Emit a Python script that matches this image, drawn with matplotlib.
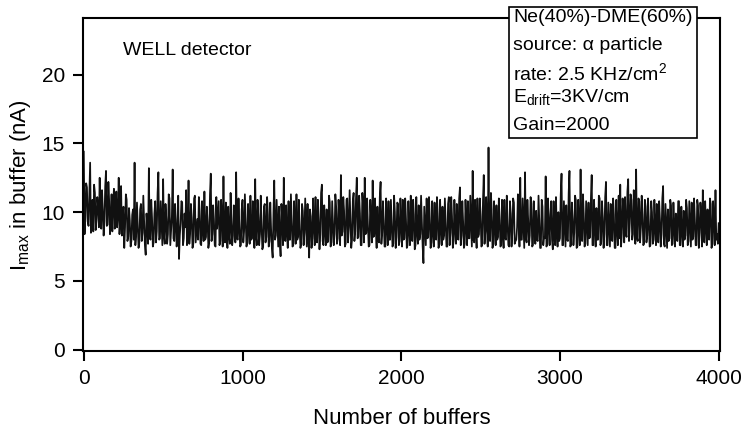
import numpy as np
import matplotlib
matplotlib.use('Agg')
import matplotlib.pyplot as plt
from matplotlib.patches import Rectangle

plt.rcParams['font.family'] = ['Liberation Sans', 'DejaVu Sans']
plt.rcParams['mathtext.fontset'] = 'custom'
plt.rcParams['mathtext.rm'] = 'Liberation Sans'
plt.rcParams['mathtext.it'] = 'Liberation Sans:italic'
plt.rcParams['mathtext.default'] = 'regular'

# Imax, buffers 0, 10, 20 ... 4000
imax = [
    14.4, 9.6, 11.8, 9.0, 13.6, 10.1, 8.6, 11.4, 9.5, 10.4, 12.5, 8.8, 10.2, 9.3, 13.0, 9.1, 10.8, 9.7, 8.6, 11.7,
    10.0, 8.9, 12.5, 9.6, 8.3, 10.4, 8.9, 10.9, 8.2, 9.4, 7.9, 10.2, 13.6, 8.4, 9.0, 7.8, 10.6, 8.5, 9.3, 6.9,
    9.1, 13.2, 8.0, 9.6, 7.8, 10.8, 8.6, 12.9, 8.1, 9.2, 12.4, 7.7, 9.5, 8.4, 11.0, 8.7, 13.1, 7.9, 9.4, 8.3,
    6.6, 9.2, 10.7, 8.1, 8.9, 7.6, 12.3, 8.5, 9.6, 7.7, 11.2, 8.6, 8.0, 10.1, 7.6, 9.0, 11.5, 8.2, 9.3, 7.8,
    12.8, 8.4, 9.5, 7.5, 8.8, 10.8, 7.9, 9.7, 12.6, 7.8, 8.7, 10.4, 7.7, 9.2, 8.3, 10.2, 12.9, 8.0, 9.0, 7.6,
    10.9, 8.6, 9.4, 7.8, 8.9, 11.2, 8.1, 8.7, 12.4, 7.6, 9.6, 8.4, 9.1, 7.5, 10.6, 8.2, 9.8, 7.9, 8.8, 6.7,
    12.3, 8.3, 9.1, 10.4, 6.8, 9.5, 12.5, 7.9, 8.6, 10.8, 8.0, 9.3, 7.6, 9.0, 11.3, 8.2, 8.8, 7.7, 10.1, 8.5,
    9.2, 10.6, 6.7, 9.7, 8.1, 8.9, 11.1, 7.8, 9.4, 8.4, 12.0, 7.6, 8.7, 10.2, 7.9, 10.7, 7.8, 9.1, 8.4, 10.4,
    8.1, 9.8, 12.7, 8.6, 10.1, 7.7, 11.0, 8.9, 9.5, 8.0, 11.4, 8.6, 12.5, 8.2, 9.9, 7.6, 10.5, 12.5, 8.5, 9.1,
    7.6, 9.6, 12.3, 8.3, 8.8, 10.4, 7.8, 12.2, 8.5, 9.4, 7.5, 9.0, 10.8, 8.0, 9.2, 7.7, 10.0, 8.2, 10.6, 7.9,
    9.1, 10.9, 8.1, 9.5, 7.6, 8.8, 11.2, 7.9, 9.8, 7.6, 8.6, 10.5, 8.4, 9.3, 6.3, 9.0, 11.0, 8.2, 9.6, 7.8,
    8.6, 10.7, 8.0, 9.9, 7.7, 8.9, 10.4, 8.3, 9.2, 7.5, 11.1, 8.5, 9.7, 7.9, 8.8, 10.6, 8.0, 11.8, 8.3, 9.3,
    7.7, 9.1, 10.8, 8.1, 9.4, 13.0, 7.8, 8.7, 11.0, 8.4, 9.8, 7.6, 12.7, 8.6, 9.0, 14.7, 7.9, 10.2, 7.7, 8.9,
    10.5, 8.2, 9.5, 7.6, 8.6, 10.9, 8.0, 9.2, 7.5, 9.9, 8.5, 10.7, 7.9, 8.9, 9.6, 12.5, 8.0, 9.1, 12.9, 7.8,
    9.4, 8.3, 10.6, 7.6, 8.8, 10.1, 7.9, 9.3, 7.4, 10.4, 8.2, 12.6, 7.7, 9.0, 9.8, 8.0, 10.8, 7.6, 8.6, 10.0,
    8.1, 12.8, 7.6, 9.2, 10.5, 7.9, 13.0, 7.6, 9.5, 8.5, 10.9, 7.5, 8.8, 13.1, 7.9, 9.9, 7.7, 9.3, 10.7, 8.2,
    12.7, 7.6, 8.9, 10.3, 8.0, 11.0, 7.8, 9.6, 8.4, 12.2, 7.6, 9.1, 10.6, 7.9, 9.8, 7.4, 8.8, 11.2, 12.0, 8.5,
    9.6, 11.1, 8.2, 12.4, 9.2, 10.9, 8.4, 10.2, 13.1, 7.9, 10.8, 8.9, 9.8, 7.7, 10.4, 8.3, 9.4, 7.6, 10.0, 8.0,
    8.9, 10.6, 7.8, 9.5, 8.4, 11.9, 7.5, 9.1, 10.2, 8.1, 10.5, 7.7, 8.9, 9.9, 7.9, 10.8, 7.6, 8.7, 10.1, 8.3,
    10.3, 7.9, 9.2, 10.7, 8.2, 9.5, 7.6, 10.5, 8.5, 9.7, 11.6, 7.8, 9.0, 10.2, 8.0, 10.6, 7.7, 9.4, 11.6, 8.4,
    9.2,
]
# in-between readings, buffers 5, 15, 25 ... 3995
imax_mid = [
    8.4, 12.1, 9.3, 11.2, 8.5, 10.9, 12.0, 8.7, 11.1, 8.9, 9.8, 11.6, 8.3, 11.9, 9.0, 12.2, 8.4, 11.3, 10.6, 8.8,
    11.5, 9.8, 8.4, 11.9, 9.7, 7.4, 11.3, 7.9, 10.3, 7.5, 9.8, 8.0, 7.6, 10.7, 7.4, 10.2, 7.9, 11.2, 7.6, 9.9,
    7.7, 8.3, 10.9, 7.5, 9.9, 7.8, 11.4, 8.0, 10.8, 7.6, 8.3, 10.6, 7.7, 11.3, 7.6, 9.7, 8.1, 10.6, 7.5, 11.2,
    8.3, 10.8, 7.6, 9.9, 11.6, 8.2, 7.7, 10.6, 7.4, 11.0, 7.8, 9.5, 11.1, 7.7, 10.8, 7.9, 8.0, 10.4, 7.4, 11.3,
    7.9, 10.5, 7.6, 11.1, 9.8, 7.6, 10.9, 7.5, 8.3, 10.7, 7.4, 8.2, 11.4, 7.6, 10.5, 7.8, 8.1, 11.0, 7.5, 10.2,
    7.8, 11.3, 7.5, 10.6, 7.7, 8.0, 10.8, 7.4, 8.2, 10.9, 7.6, 11.2, 7.3, 10.4, 7.8, 11.1, 7.5, 10.7, 7.4, 9.9,
    8.0, 10.9, 7.5, 7.9, 10.6, 7.6, 8.1, 10.5, 7.4, 8.0, 11.3, 7.5, 10.8, 7.7, 8.0, 10.9, 7.4, 10.6, 7.6, 11.0,
    7.5, 8.1, 10.2, 7.4, 11.0, 7.6, 8.2, 10.9, 7.3, 11.4, 7.9, 10.5, 7.6, 7.8, 11.2, 7.5, 10.8, 7.6, 11.3, 7.7,
    10.9, 7.6, 8.3, 11.1, 7.5, 10.9, 7.8, 11.6, 7.4, 10.8, 7.9, 11.0, 8.1, 11.2, 7.6, 11.4, 7.8, 8.4, 11.0, 7.5,
    10.9, 7.8, 8.2, 11.0, 7.4, 8.0, 11.1, 7.7, 10.8, 7.5, 11.0, 7.6, 8.0, 10.9, 7.5, 11.2, 7.4, 10.7, 7.6, 11.0,
    7.5, 8.0, 11.0, 7.4, 10.8, 7.6, 8.0, 10.9, 7.3, 11.1, 7.7, 8.0, 11.2, 7.5, 10.4, 7.6, 8.1, 11.1, 7.4, 10.8,
    7.5, 8.2, 11.1, 7.4, 10.9, 7.6, 8.0, 11.0, 7.5, 10.6, 7.6, 11.1, 7.4, 10.9, 7.7, 8.1, 11.0, 7.6, 10.8, 7.4,
    10.9, 7.6, 8.1, 11.2, 7.5, 8.0, 10.9, 7.4, 8.2, 11.0, 7.5, 10.8, 7.7, 11.1, 7.5, 8.0, 11.4, 7.4, 10.8, 7.6,
    8.0, 11.0, 7.5, 10.9, 7.4, 8.1, 11.2, 7.6, 10.8, 7.5, 11.0, 7.7, 8.0, 11.3, 7.5, 8.0, 11.0, 7.4, 8.2, 10.9,
    7.6, 11.1, 7.5, 10.8, 7.7, 8.0, 11.2, 7.4, 10.9, 7.6, 8.1, 7.5, 11.0, 7.6, 10.8, 7.3, 8.1, 11.1, 7.5, 7.9,
    11.3, 7.6, 10.8, 7.5, 8.0, 11.4, 7.5, 10.7, 7.6, 11.2, 7.4, 10.9, 7.6, 8.0, 11.3, 7.5, 10.8, 7.6, 8.1, 11.0,
    7.6, 10.9, 7.5, 8.0, 11.2, 7.6, 10.8, 7.4, 11.1, 7.6, 10.7, 7.5, 8.0, 11.0, 7.4, 10.9, 7.6, 8.1, 7.5, 11.0,
    7.8, 8.4, 11.5, 7.9, 11.3, 8.0, 11.6, 7.7, 8.2, 11.0, 7.8, 11.2, 7.6, 10.9, 7.8, 11.0, 7.5, 10.8, 7.7, 10.9,
    7.6, 8.0, 10.8, 7.5, 11.0, 7.7, 10.6, 7.4, 7.9, 10.9, 7.6, 10.7, 7.5, 8.0, 10.8, 7.6, 10.4, 7.5, 8.0, 10.9,
    7.6, 10.8, 7.5, 8.0, 11.0, 7.6, 10.9, 7.4, 10.7, 7.5, 8.0, 10.8, 7.6, 8.1, 11.0, 7.4, 10.8, 7.6, 8.0, 7.7,
]
buffers = np.concatenate([np.arange(len(imax)) * 10, np.arange(len(imax_mid)) * 10 + 5])
values = np.concatenate([imax, imax_mid])
order = np.argsort(buffers)

x_ticks = [0, 1000, 2000, 3000, 4000]
y_ticks = [0, 5, 10, 15, 20]
info_lines = ['Ne(40%)-DME(60%)', 'source: α particle', 'rate: 2.5 KHz/cm$^2$',
              'E$_{drift}$=3KV/cm', 'Gain=2000']

fig = plt.figure(figsize=(7.41, 4.34), dpi=100)
ax = fig.add_axes([0.112, 0.191, 0.860, 0.767])
ax.plot(buffers[order], values[order], color='#111111', lw=1.25)

ax.set_xlim(-5, 4010)
ax.set_ylim(-0.1, 24.1)
ax.set_xticks(x_ticks)
ax.set_yticks(y_ticks)
ax.tick_params(direction='out', length=7, width=1.5, labelsize=15, pad=6)
for s in ax.spines.values():
    s.set_linewidth(1.5)

ax.set_xlabel('Number of buffers', fontsize=16, labelpad=14)
ax.set_ylabel('I$_{max}$ in buffer (nA)', fontsize=16, labelpad=6)

ax.text(0.063, 0.889, 'WELL detector', transform=ax.transAxes, fontsize=14)

# info box sitting over the top spine
ax.add_patch(Rectangle((0.669, 0.640), 0.295, 0.393, transform=ax.transAxes,
                       facecolor='white', edgecolor='black', lw=1.2, clip_on=False, zorder=5))
ys = [0.989, 0.906, 0.814, 0.749, 0.664]
for t, yy in zip(info_lines, ys):
    ax.text(0.675, yy, t, transform=ax.transAxes, fontsize=14, va='baseline', zorder=6)

plt.savefig('out.png', dpi=100)
